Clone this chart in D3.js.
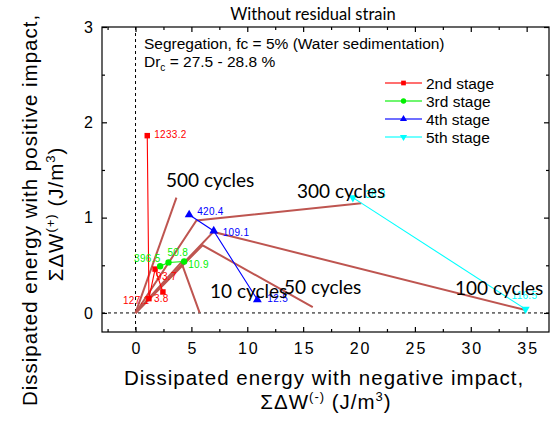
<!DOCTYPE html>
<html><head><meta charset="utf-8">
<script src="https://cdn.jsdelivr.net/npm/d3@7"></script>
<style>body{margin:0;background:#fff}svg{display:block}</style>
</head><body><svg id="c" width="550" height="425"></svg>
<script>
// ---- data ----
const xTicks = [0,5,10,15,20,25,30,35];
const yTicks = [0,1,2,3];
const seriesNames = ["2nd stage","3rd stage","4th stage","5th stage"];
const stage2X = [1.05, 1.2, 1.75, 2.45];
const stage2Y = [1.86, 0.15, 0.46, 0.22];
const stage2Labels = ["1233.2","127.1","93.7","3.8"];
const stage3X = [2.2, 2.95, 4.35];
const stage3Y = [0.49, 0.53, 0.54];
const stage3Labels = ["396.5","50.8","10.9"];
const stage4X = [4.8, 7.0, 10.9];
const stage4Y = [1.03, 0.86, 0.14];
const stage4Labels = ["420.4","109.1","12.5"];
const stage5X = [19.45, 34.9];
const stage5Y = [1.21, 0.04];
const stage5Labels = ["38.3","116.5"];
const cycleLabels = ["500 cycles","300 cycles","100 cycles","50 cycles","10 cycles"];
const cycleLinesX = [[0,3.66],[0,5.45,20.2],[0,6.97,34.9],[0,6.0,15.86],[0,4.1,5.74]];
const cycleLinesY = [[0,1.21],[0,0.97,1.15],[0,0.85,0.03],[0,0.71,0.06],[0,0.53,0.0]];

// ---- layout ----
const svg = d3.select("#c");
const x = d3.scaleLinear().domain([-3,37]).range([102,549]);
const y = d3.scaleLinear().domain([-0.2,3]).range([332,27]);
const AR = "'Liberation Sans', Arial, sans-serif";
const CAL = "Lato, 'Open Sans', sans-serif";

// title
svg.append("text").attr("x",313).attr("y",20).attr("text-anchor","middle")
  .style("font-family",CAL).style("font-size","16.5px").text("Without residual strain");

// zero dashed lines
svg.append("line").attr("x1",x(-3)).attr("x2",x(37)).attr("y1",y(0)).attr("y2",y(0))
  .attr("stroke","#000").attr("stroke-dasharray","3,3");
svg.append("line").attr("x1",x(0)).attr("x2",x(0)).attr("y1",y(3)).attr("y2",y(-0.2))
  .attr("stroke","#000").attr("stroke-dasharray","3,3");

// axes
const xMinor = d3.range(-2.5,37,2.5).filter(v=>Math.abs(v/5-Math.round(v/5))>1e-6);
const yMinor = [0.5,1.5,2.5];
function styleAxis(g){ g.select(".domain").remove(); g.selectAll("line").attr("stroke","#000").attr("stroke-width",1.2); }
const tickFont = g=>g.selectAll("text").style("font-family",AR).style("font-size","16px").style("letter-spacing","2px").attr("fill","#000");
svg.append("g").attr("transform","translate(1,332)")
  .call(d3.axisBottom(x).tickValues(xTicks).tickSize(0).tickPadding(11).tickFormat(d3.format("d")))
  .call(styleAxis).call(tickFont);
svg.append("g").attr("transform","translate(0,332)")
  .call(d3.axisBottom(x).tickValues(xTicks).tickSize(-5).tickFormat(""))
  .call(styleAxis);
svg.append("g").attr("transform","translate(0,332)")
  .call(d3.axisBottom(x).tickValues(xMinor).tickSize(-3).tickFormat(""))
  .call(styleAxis);
svg.append("g").attr("transform","translate(0,27)")
  .call(d3.axisTop(x).tickValues(xTicks).tickSize(-5).tickFormat(""))
  .call(styleAxis);
svg.append("g").attr("transform","translate(0,27)")
  .call(d3.axisTop(x).tickValues(xMinor).tickSize(-3).tickFormat(""))
  .call(styleAxis);
svg.append("g").attr("transform","translate(102,0)")
  .call(d3.axisLeft(y).tickValues(yTicks).tickSize(-5).tickPadding(7).tickFormat(d3.format("d")))
  .call(styleAxis).call(tickFont);
svg.append("g").attr("transform","translate(102,0)")
  .call(d3.axisLeft(y).tickValues(yMinor).tickSize(-3).tickFormat(""))
  .call(styleAxis);
svg.append("g").attr("transform","translate(549,0)")
  .call(d3.axisRight(y).tickValues(yTicks).tickSize(-5).tickFormat(""))
  .call(styleAxis);
svg.append("g").attr("transform","translate(549,0)")
  .call(d3.axisRight(y).tickValues(yMinor).tickSize(-3).tickFormat(""))
  .call(styleAxis);
svg.append("rect").attr("x",102).attr("y",27).attr("width",447).attr("height",305)
  .attr("fill","none").attr("stroke","#000").attr("stroke-width",1.2);

// annotation text
svg.append("text").attr("x",144).attr("y",49).style("font-family",AR).style("font-size","15.5px")
  .text("Segregation, fc = 5% (Water sedimentation)");
const dr = svg.append("text").attr("x",144).attr("y",67).style("font-family",AR).style("font-size","15.5px");
dr.append("tspan").text("Dr");
dr.append("tspan").attr("dy",4).style("font-size","10px").text("c");
dr.append("tspan").attr("dy",-4).text(" = 27.5 - 28.8 %");

// brown annotation lines
const line = d3.line().x(d=>x(d[0])).y(d=>y(d[1]));
cycleLinesX.forEach((xs,i)=>{
  const pts = xs.map((v,j)=>[v,cycleLinesY[i][j]]);
  svg.append("path").attr("d",line(pts)).attr("fill","none")
    .attr("stroke","#BE5550").attr("stroke-width",2);
});

// series
const sym = {
  sq: d3.symbol().type(d3.symbolSquare).size(30),
  ci: d3.symbol().type(d3.symbolCircle).size(32),
  tu: d3.symbol().type(d3.symbolTriangle).size(34),
  td: d3.symbol().type(d3.symbolTriangle).size(30)
};
const series = [
  {xs:stage2X, ys:stage2Y, lab:stage2Labels, col:"#ff0000", s:"sq", rot:0, off:[[7,2],[-26,5],[1,11],[-9,10]]},
  {xs:stage3X, ys:stage3Y, lab:stage3Labels, col:"#00f000", s:"ci", rot:0, off:[[-26,-4],[-1,-6],[4,7]]},
  {xs:stage4X, ys:stage4Y, lab:stage4Labels, col:"#0000ff", s:"tu", rot:0, off:[[8,0],[9,5],[10,2]]},
  {xs:stage5X, ys:stage5Y, lab:stage5Labels, col:"#00ffff", s:"td", rot:180, off:[[12,0],[-14,-10]]}
];
series.forEach(se=>{
  const pts = se.xs.map((v,j)=>[v,se.ys[j]]);
  svg.append("path").attr("d",line(pts)).attr("fill","none").attr("stroke",se.col).attr("stroke-width",1.1);
  pts.forEach((p,j)=>{
    svg.append("path").attr("d",sym[se.s]()).attr("fill",se.col)
      .attr("transform",`translate(${x(p[0])},${y(p[1])}) rotate(${se.rot})`);
    svg.append("text").attr("x",x(p[0])+se.off[j][0]).attr("y",y(p[1])+se.off[j][1])
      .attr("fill",se.col).style("font-family",AR).style("font-size","10px").style("letter-spacing","0.3px")
      .text(se.lab[j]);
  });
});

// cycle labels
const cyclePos = [[166,187],[297,198],[455,295],[284,294],[210,298]];
cycleLabels.forEach((t,i)=>{
  svg.append("text").attr("x",cyclePos[i][0]).attr("y",cyclePos[i][1])
    .style("font-family",CAL).style("font-size","19px").attr("fill","#000").text(t);
});

// legend
const legSyms = ["sq","ci","tu","td"];
const legCols = ["#ff0000","#00f000","#0000ff","#00ffff"];
seriesNames.forEach((n,i)=>{
  const yy = 83 + i*18;
  svg.append("line").attr("x1",385).attr("x2",422).attr("y1",yy).attr("y2",yy)
    .attr("stroke",legCols[i]).attr("stroke-width",1.3).attr("opacity",0.75);
  svg.append("path").attr("d",sym[legSyms[i]].size(22)()).attr("fill",legCols[i])
    .attr("transform",`translate(403.5,${yy}) rotate(${i===3?180:0})`);
  svg.append("text").attr("x",426).attr("y",yy+5.5).style("font-family",AR).style("font-size","15.5px").text(n);
});

// axis titles
const xt = svg.append("text").attr("text-anchor","middle").style("font-family",AR).style("font-size","20.5px").style("letter-spacing","1px");
xt.append("tspan").attr("x",324).attr("y",385).text("Dissipated energy with negative impact,");
const xt2 = svg.append("text").attr("text-anchor","middle").attr("x",326).attr("y",409).style("font-family",AR).style("font-size","20.5px").style("letter-spacing","1px");
xt2.append("tspan").text("ΣΔW");
xt2.append("tspan").attr("dy",-8).style("font-size","13px").text("(-)");
xt2.append("tspan").attr("dy",8).text(" (J/m");
xt2.append("tspan").attr("dy",-8).style("font-size","13px").text("3");
xt2.append("tspan").attr("dy",8).text(")");

const yt = svg.append("g").attr("transform","translate(37,210) rotate(-90)");
yt.append("text").attr("text-anchor","middle").style("font-family",AR).style("font-size","20.5px").style("letter-spacing","1px")
  .text("Dissipated energy with positive impact,");
const yt2 = yt.append("text").attr("text-anchor","middle").attr("x",-4).attr("y",26).style("font-family",AR).style("font-size","20.5px").style("letter-spacing","1px");
yt2.append("tspan").text("ΣΔW");
yt2.append("tspan").attr("dy",-8).style("font-size","13px").text("(+)");
yt2.append("tspan").attr("dy",8).text(" (J/m");
yt2.append("tspan").attr("dy",-8).style("font-size","13px").text("3");
yt2.append("tspan").attr("dy",8).text(")");
</script></body></html>
